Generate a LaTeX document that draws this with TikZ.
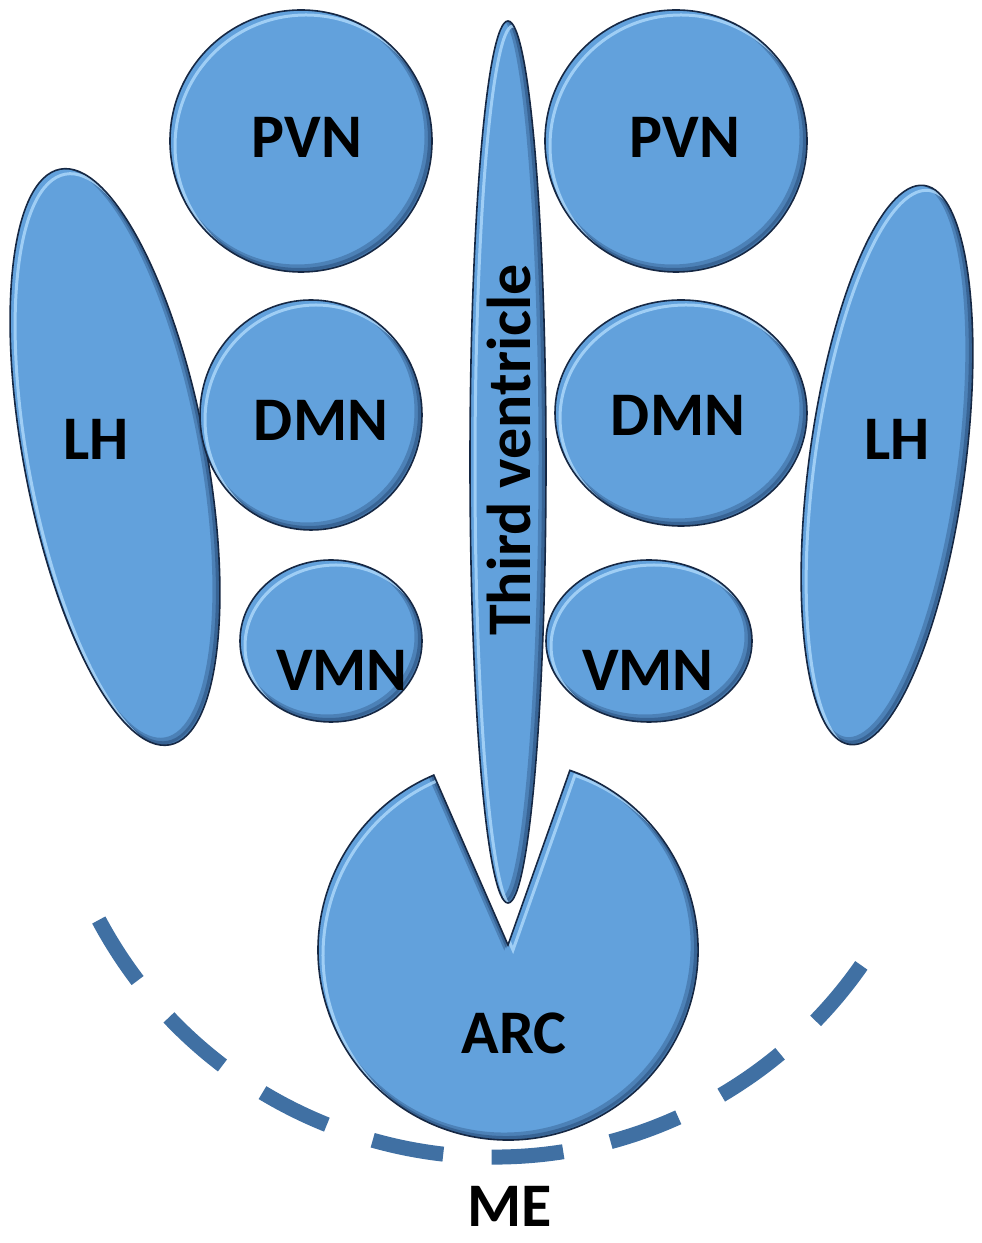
\documentclass[tikz,border=0pt]{standalone}
\usepackage{fontspec}
\newfontfamily\labfont{Carlito}
\definecolor{basefill}{RGB}{98,161,220}
\definecolor{hilite}{RGB}{175,218,252}
\definecolor{shadowc}{RGB}{28,58,98}
\definecolor{edgec}{RGB}{22,40,68}
\definecolor{dashc}{RGB}{64,112,163}
\newcommand\bevshape[1]{%
  \fill[basefill] #1;
  \begin{scope}
    \clip #1;
    \begin{scope}[shift={(-4,4)}]\draw[draw=shadowc, line width=7pt, opacity=0.3] #1;\end{scope}
    \begin{scope}[shift={(-2,2)}]\draw[draw=shadowc, line width=4pt, opacity=0.4] #1;\end{scope}
    \begin{scope}[shift={(5,-5)}]\draw[draw=hilite, line width=3pt, opacity=0.8] #1;\end{scope}
  \end{scope}
  \draw[draw=edgec, line width=1.6pt] #1;
}
\tikzset{
  lab/.style={font=\labfont\bfseries\fontsize{62}{64}\selectfont, text=black, inner sep=0pt},
  medash/.style={draw=dashc, line width=15pt, dash pattern=on 72pt off 48.4pt}
}
\begin{document}
\begin{tikzpicture}[x=1pt,y=1pt]
\useasboundingbox[fill=white] (0,0) rectangle (982,1243);
% dashed median eminence boundary
\draw[medash] (98.8,323) arc[start angle=208.1, end angle=325.1, radius=448];
% shapes
\bevshape{(301,1102) circle [radius=131]}
\bevshape{(676,1102) circle [radius=131]}
\bevshape{(115,786) ellipse [x radius=91, y radius=293, rotate=10.8]}
\bevshape{(887,778) ellipse [x radius=78, y radius=282, rotate=-7.6]}
\bevshape{(311,828) ellipse [x radius=111, y radius=115]}
\bevshape{(681,830) ellipse [x radius=126, y radius=113]}
\bevshape{(331,602) ellipse [x radius=91, y radius=81]}
\bevshape{(649,602) ellipse [x radius=103, y radius=81]}
\bevshape{(508,298) -- (433.8,467.9) arc[start angle=113, end angle=431, radius=190] -- cycle}
\bevshape{(508,781) ellipse [x radius=38, y radius=441]}
% labels
\node[lab] (pvnl) at (307,1106) {PVN};
\node[lab] (pvnr) at (685,1106) {PVN};
\node[lab] (lhl) at (96,804) {LH};
\node[lab] (lhr) at (897,804) {LH};
\node[lab] (dmnl) at (321,823) {DMN};
\node[lab] (dmnr) at (678,828) {DMN};
\node[lab] (vmnl) at (342,573) {VMN};
\node[lab] (vmnr) at (648,573) {VMN};
\node[lab] (arc) at (514,210) {ARC};
\node[lab] (me) at (510,37) {ME};
\node[lab, rotate=90] (tv) at (509,793) {Third ventricle};
\end{tikzpicture}
\end{document}
